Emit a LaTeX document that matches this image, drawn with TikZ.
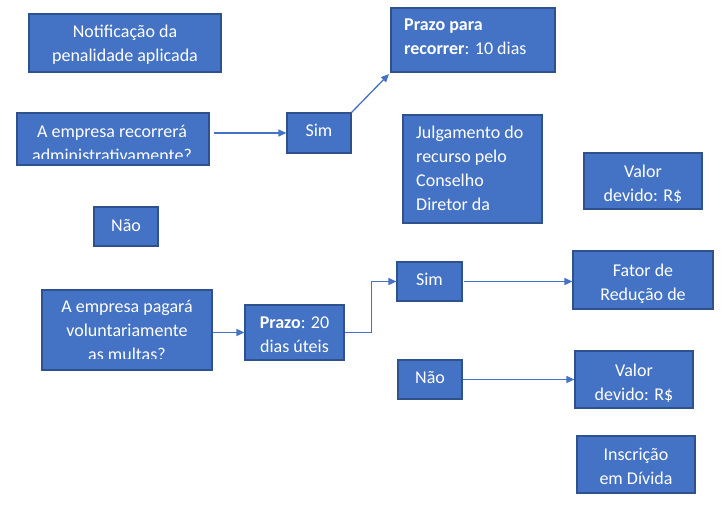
\documentclass[tikz,border=0pt]{standalone}
\usepackage{fontspec}
\setmainfont{Carlito}
\usetikzlibrary{arrows.meta}
\definecolor{boxfill}{HTML}{4472C4}
\definecolor{boxline}{HTML}{2F528F}
\definecolor{arrcol}{HTML}{4472C4}
\tikzset{
  bx/.style={draw=boxline, fill=boxfill, line width=1.2pt, inner sep=0pt, rectangle},
  txt/.style={inner sep=0pt, text=white, font=\fontsize{18}{24}\selectfont},
  arr/.style={draw=arrcol, line width=1.3pt, -{Triangle[length=8pt,width=7pt]}}
}
\newcommand\fbx[5]{\node[bx, minimum width={(#4-#2)*1pt}, minimum height={(#5-#3)*1pt}] (#1) at ({(#2+#4)/2},{(#3+#5)/2}) {};}
\begin{document}
\begin{tikzpicture}[x=1pt,y=-1pt]
\useasboundingbox (0,0) rectangle (728,518);
\fill[white] (0,0) rectangle (728,518);
% boxes
\fbx{notif}{29}{14}{221}{72}
\fbx{recq}{17}{113}{209}{165}
\fbx{sim1}{287}{113}{351}{153}
\fbx{prazo1}{391}{8}{555}{72}
\fbx{julg}{403}{115}{542}{223}
\fbx{valor1}{584}{153}{702}{209}
\fbx{nao1}{94}{207}{158}{246}
\fbx{pagq}{42}{290}{212}{370}
\fbx{prazo2}{245}{305}{344}{360}
\fbx{sim2}{397}{262}{462}{301}
\fbx{fator}{573}{251}{713}{309}
\fbx{nao2}{398}{360}{462}{399}
\fbx{valor2}{575}{351}{693}{408}
\fbx{insc}{577}{436}{695}{493}
% texts
\node[txt, anchor=north, align=center] (notif-t) at (125,{37-16.8}) {\strut Notificação da\\\strut penalidade aplicada};
\begin{scope}
\clip (17,113) rectangle (209,159);
\node[txt, anchor=north, align=center] (recq-t) at (112,{137-16.8}) {\strut A empresa recorrerá\\\strut administrativamente?};
\end{scope}
\node[txt, anchor=base] (sim1-t) at (319,137) {Sim};
\node[txt, anchor=north west, align=left] (prazo1-t) at (404,{30-16.8}) {\strut\textbf{Prazo para}\\\strut\textbf{recorrer}: 10 dias};
\node[txt, anchor=north west, align=left] (julg-t) at (416,{138-16.8}) {\strut Julgamento do\\\strut recurso pelo\\\strut Conselho\\\strut Diretor da};
\node[txt, anchor=north, align=center] (valor1-t) at (643,{177-16.8}) {\strut Valor\\\strut devido: R\$};
\node[txt, anchor=base] (nao1-t) at (126,232) {Não};
\begin{scope}
\clip (42,290) rectangle (212,359);
\node[txt, anchor=north, align=center] (pagq-t) at (127,{312-16.8}) {\strut A empresa pagará\\\strut voluntariamente\\\strut as multas?};
\end{scope}
\node[txt, anchor=north, align=center] (prazo2-t) at (294.5,{328-16.8}) {\strut\textbf{Prazo}: 20\\\strut dias úteis};
\node[txt, anchor=base] (sim2-t) at (429.5,286) {Sim};
\node[txt, anchor=north, align=center] (fator-t) at (643,{276-16.8}) {\strut Fator de\\\strut Redução de};
\node[txt, anchor=base] (nao2-t) at (430,384) {Não};
\node[txt, anchor=north, align=center] (valor2-t) at (634,{376-16.8}) {\strut Valor\\\strut devido: R\$};
\node[txt, anchor=north, align=center] (insc-t) at (636,{460-16.8}) {\strut Inscrição\\\strut em Dívida};
% connectors
\draw[arr, shorten <=4pt] (recq.east |- sim1.west) -- (sim1.west);
\draw[arr, shorten >=2pt] (sim1.north east) -- (prazo1.south west);
\draw[arr] (pagq.east |- prazo2.west) -- (prazo2.west);
\draw[arr] (prazo2.east) -- ++(27,0) |- (sim2.west);
\draw[arr, shorten <=1pt] (sim2.east) -- (fator.west |- sim2.east);
\draw[arr] (nao2.east) -- (valor2.west |- nao2.east);
\end{tikzpicture}
\end{document}
